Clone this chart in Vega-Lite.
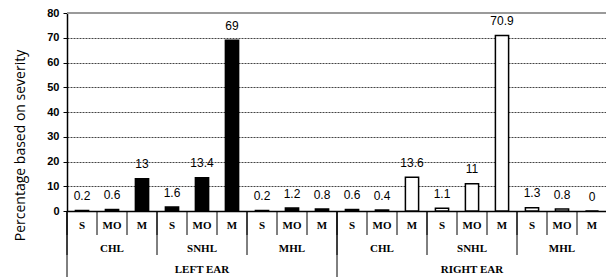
{
  "$schema": "https://vega.github.io/schema/vega-lite/v6.json",
  "width": 540,
  "height": 198,
  "autosize": {"type": "none"},
  "padding": {"left": 67, "top": 13, "right": 0, "bottom": 69},
  "background": "white",
  "config": {
    "view": {"stroke": null},
    "font": "Liberation Sans"
  },
  "data": {
    "values": [
      {"key": "LEFT EAR|CHL|S", "ear": "LEFT EAR", "type": "CHL", "sev": "S", "value": 0.2},
      {"key": "LEFT EAR|CHL|MO", "ear": "LEFT EAR", "type": "CHL", "sev": "MO", "value": 0.6},
      {"key": "LEFT EAR|CHL|M", "ear": "LEFT EAR", "type": "CHL", "sev": "M", "value": 13},
      {"key": "LEFT EAR|SNHL|S", "ear": "LEFT EAR", "type": "SNHL", "sev": "S", "value": 1.6},
      {"key": "LEFT EAR|SNHL|MO", "ear": "LEFT EAR", "type": "SNHL", "sev": "MO", "value": 13.4},
      {"key": "LEFT EAR|SNHL|M", "ear": "LEFT EAR", "type": "SNHL", "sev": "M", "value": 69},
      {"key": "LEFT EAR|MHL|S", "ear": "LEFT EAR", "type": "MHL", "sev": "S", "value": 0.2},
      {"key": "LEFT EAR|MHL|MO", "ear": "LEFT EAR", "type": "MHL", "sev": "MO", "value": 1.2},
      {"key": "LEFT EAR|MHL|M", "ear": "LEFT EAR", "type": "MHL", "sev": "M", "value": 0.8},
      {"key": "RIGHT EAR|CHL|S", "ear": "RIGHT EAR", "type": "CHL", "sev": "S", "value": 0.6},
      {"key": "RIGHT EAR|CHL|MO", "ear": "RIGHT EAR", "type": "CHL", "sev": "MO", "value": 0.4},
      {"key": "RIGHT EAR|CHL|M", "ear": "RIGHT EAR", "type": "CHL", "sev": "M", "value": 13.6},
      {"key": "RIGHT EAR|SNHL|S", "ear": "RIGHT EAR", "type": "SNHL", "sev": "S", "value": 1.1},
      {"key": "RIGHT EAR|SNHL|MO", "ear": "RIGHT EAR", "type": "SNHL", "sev": "MO", "value": 11},
      {"key": "RIGHT EAR|SNHL|M", "ear": "RIGHT EAR", "type": "SNHL", "sev": "M", "value": 70.9},
      {"key": "RIGHT EAR|MHL|S", "ear": "RIGHT EAR", "type": "MHL", "sev": "S", "value": 1.3},
      {"key": "RIGHT EAR|MHL|MO", "ear": "RIGHT EAR", "type": "MHL", "sev": "MO", "value": 0.8},
      {"key": "RIGHT EAR|MHL|M", "ear": "RIGHT EAR", "type": "MHL", "sev": "M", "value": 0}
    ]
  },
  "encoding": {
    "x": {
      "field": "key", "type": "nominal", "sort": null,
      "scale": {"paddingInner": 0.56, "paddingOuter": 0.28},
      "axis": {
        "title": null,
        "labelExpr": "split(datum.value, '|')[2]",
        "labelAngle": 0,
        "labelFont": "Liberation Serif",
        "labelFontWeight": "bold",
        "labelFontSize": 11,
        "labelColor": "black",
        "labelPadding": 8,
        "ticks": false,
        "domainColor": "black",
        "domainWidth": 1.5,
        "grid": false
      }
    },
    "y": {
      "field": "value", "type": "quantitative",
      "scale": {"domain": [0, 80], "nice": false},
      "axis": {
        "values": [0, 10, 20, 30, 40, 50, 60, 70, 80],
        "title": "Percentage based on severity",
        "titleFont": "Open Sans",
        "titleFontSize": 14,
        "titleFontWeight": "normal",
        "titleColor": "black",
        "titleAngle": -90,
        "titleX": -47,
        "titleY": 132,
        "titleAlign": "center",
        "titleBaseline": "middle",
        "labelFont": "Liberation Sans",
        "labelFontWeight": "bold",
        "labelFontSize": 11,
        "labelColor": "black",
        "labelPadding": 4,
        "labelOverlap": false,
        "tickSize": 4,
        "tickColor": "black",
        "domainColor": "black",
        "domainWidth": 1.5,
        "grid": true,
        "gridColor": "#444444",
        "gridDash": [2, 1],
        "gridWidth": 1
      }
    }
  },
  "layer": [
    {
      "mark": {"type": "rule", "color": "#9a9a9a", "strokeWidth": 2},
      "encoding": {
        "x": {"value": 0},
        "x2": {"value": 540},
        "y": {"datum": 80, "type": "quantitative"}
      }
    },
    {
      "mark": {"type": "bar", "stroke": "black", "strokeWidth": 1.5},
      "encoding": {
        "fill": {
          "field": "ear", "type": "nominal",
          "scale": {"domain": ["LEFT EAR", "RIGHT EAR"], "range": ["black", "white"]},
          "legend": null
        }
      }
    },
    {
      "mark": {"type": "text", "baseline": "middle", "dy": -14.5, "fontSize": 12, "font": "Liberation Sans", "color": "black"},
      "encoding": {
        "text": {"field": "value", "type": "quantitative", "format": "~g"}
      }
    },
    {
      "mark": {"type": "rule", "color": "black", "strokeWidth": 1, "xOffset": -8.4},
      "encoding": {
        "x": {"field": "key", "type": "nominal", "sort": null, "bandPosition": 0},
        "y": {"value": 198},
        "y2": {"value": 222}
      }
    },
    {
      "transform": [{"filter": "datum.sev === 'S'"}],
      "mark": {"type": "rule", "color": "black", "strokeWidth": 1, "xOffset": -8.4},
      "encoding": {
        "x": {"field": "key", "type": "nominal", "sort": null, "bandPosition": 0},
        "y": {"value": 198},
        "y2": {"value": 242}
      }
    },
    {
      "transform": [{"filter": "datum.sev === 'S' && datum.type === 'CHL'"}],
      "mark": {"type": "rule", "color": "black", "strokeWidth": 1, "xOffset": -8.4},
      "encoding": {
        "x": {"field": "key", "type": "nominal", "sort": null, "bandPosition": 0},
        "y": {"value": 198},
        "y2": {"value": 264}
      }
    },
    {
      "transform": [{"filter": "datum.sev === 'MO'"}],
      "mark": {"type": "text", "baseline": "middle", "font": "Liberation Serif", "fontWeight": "bold", "fontSize": 11, "color": "black"},
      "encoding": {
        "y": {"value": 236},
        "text": {"field": "type", "type": "nominal"}
      }
    },
    {
      "transform": [{"filter": "datum.sev === 'MO' && datum.type === 'SNHL'"}],
      "mark": {"type": "text", "baseline": "middle", "font": "Liberation Serif", "fontWeight": "bold", "fontSize": 11, "color": "black"},
      "encoding": {
        "y": {"value": 257},
        "text": {"field": "ear", "type": "nominal"}
      }
    }
  ]
}
